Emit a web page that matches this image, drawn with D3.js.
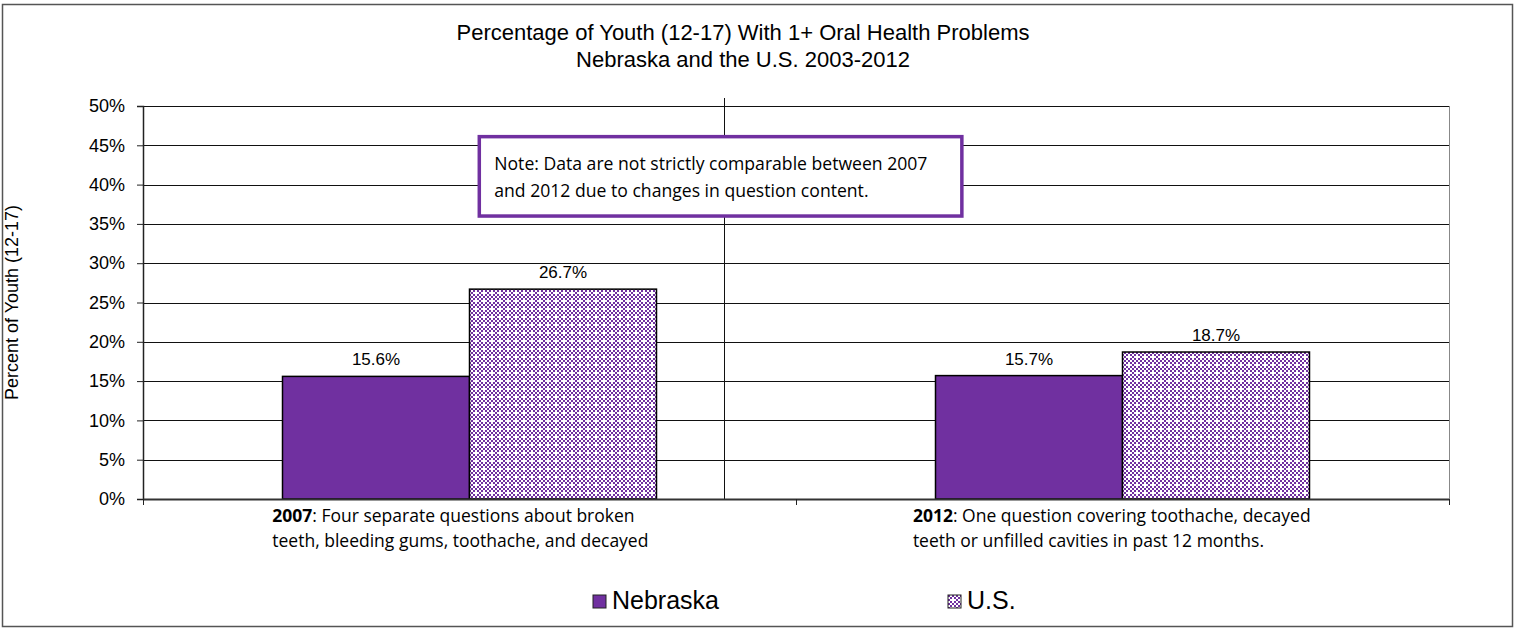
<!DOCTYPE html>
<html>
<head>
<meta charset="utf-8">
<script src="https://cdn.jsdelivr.net/npm/d3@7"></script>
<style>
  body { margin: 0; background: #fff; }
  svg { display: block; }
</style>
</head>
<body>
<div id="chart"></div>
<script>
const categories = ["2007", "2012"];
const seriesNames = ["Nebraska", "U.S."];
const nebraskaValues = [15.6, 15.7];
const usValues = [26.7, 18.7];
const yTicks = [0, 5, 10, 15, 20, 25, 30, 35, 40, 45, 50];
const categoryBold = ["2007", "2012"];
const categoryLine1 = [": Four separate questions about broken", ": One question covering toothache, decayed"];
const categoryLine2 = ["teeth, bleeding gums, toothache, and decayed", "teeth or unfilled cavities in past 12 months."];
const noteLines = ["Note: Data are not strictly comparable between 2007", "and 2012 due to changes in question content."];

const width = 1519, height = 629;
const plot = {left: 143, right: 1449, top: 106, bottom: 499};
const purple = "#7030A0";

const svg = d3.select("#chart").append("svg")
    .attr("width", width)
    .attr("height", height);

// checkered fill for the U.S. bars
const defs = svg.append("defs");
const pattern = defs.append("pattern")
    .attr("id", "checker")
    .attr("patternUnits", "userSpaceOnUse")
    .attr("width", 8)
    .attr("height", 8);
pattern.append("rect").attr("width", 8).attr("height", 8).attr("fill", "#fff");
for (let i = 0; i < 4; i++) {
    for (let j = 0; j < 4; j++) {
        if ((i + j) % 2 !== 0) continue;
        if (i === 2 && j === 2) continue; // leaves the little white plus
        pattern.append("rect")
            .attr("x", i * 2).attr("y", j * 2)
            .attr("width", 2).attr("height", 2)
            .attr("fill", purple);
    }
}

// outer frame
svg.append("rect")
    .attr("x", 2.5).attr("y", 4.5)
    .attr("width", 1510).attr("height", 622)
    .attr("fill", "none")
    .attr("stroke", "#555")
    .attr("stroke-width", 1.5);

// title
svg.append("text")
    .attr("x", 743).attr("y", 40)
    .attr("text-anchor", "middle")
    .style("font-family", "Liberation Sans, Arial, sans-serif")
    .style("font-size", "22px")
    .text("Percentage of Youth (12-17) With 1+ Oral Health Problems");
svg.append("text")
    .attr("x", 743).attr("y", 67)
    .attr("text-anchor", "middle")
    .style("font-family", "Liberation Sans, Arial, sans-serif")
    .style("font-size", "22px")
    .text("Nebraska and the U.S. 2003-2012");

const x = d3.scaleBand()
    .domain(categories)
    .range([plot.left, plot.right])
    .paddingInner(0)
    .paddingOuter(0);

const xSub = d3.scaleBand()
    .domain(seriesNames)
    .range([0, x.bandwidth()])
    .paddingInner(0)
    .paddingOuter(0.746);

// category units, for the divider line and note box
const xCat = d3.scaleLinear().domain([0, 2]).range([plot.left, plot.right]);

const y = d3.scaleLinear()
    .domain([0, 50])
    .range([plot.bottom, plot.top]);

// gridlines
svg.append("g")
    .selectAll("line")
    .data(yTicks.filter(d => d > 0))
    .join("line")
    .attr("x1", plot.left).attr("x2", plot.right)
    .attr("y1", d => Math.round(y(d)) + 0.5)
    .attr("y2", d => Math.round(y(d)) + 0.5)
    .attr("stroke", "#111")
    .attr("stroke-width", 1);

// right edge of plot area
svg.append("line")
    .attr("x1", plot.right + 0.5).attr("x2", plot.right + 0.5)
    .attr("y1", plot.top).attr("y2", plot.bottom + 5)
    .attr("stroke", "#888");

// divider between the two survey years
svg.append("line")
    .attr("x1", Math.round(xCat(0.89)) + 0.5).attr("x2", Math.round(xCat(0.89)) + 0.5)
    .attr("y1", plot.top - 8).attr("y2", plot.bottom)
    .attr("stroke", "#111");

// bars
const rows = categories.map((c, i) => ({
    category: c,
    values: [
        {series: "Nebraska", value: nebraskaValues[i]},
        {series: "U.S.", value: usValues[i]}
    ]
}));

const groups = svg.append("g")
    .selectAll("g")
    .data(rows)
    .join("g")
    .attr("transform", d => "translate(" + x(d.category) + ",0)");

groups.selectAll("rect")
    .data(d => d.values)
    .join("rect")
    .attr("x", d => xSub(d.series))
    .attr("y", d => y(d.value))
    .attr("width", xSub.bandwidth())
    .attr("height", d => y(0) - y(d.value))
    .attr("fill", d => d.series === "Nebraska" ? purple : "url(#checker)")
    .attr("stroke", "#000")
    .attr("stroke-width", 1.5);

groups.selectAll("text")
    .data(d => d.values)
    .join("text")
    .attr("x", d => xSub(d.series) + xSub.bandwidth() / 2)
    .attr("y", d => y(d.value) - 11)
    .attr("text-anchor", "middle")
    .style("font-family", "Liberation Sans, Arial, sans-serif")
    .style("font-size", "17px")
    .text(d => d.value.toFixed(1) + "%");

// y axis
const yAxis = svg.append("g")
    .attr("transform", "translate(" + plot.left + ",0)")
    .call(d3.axisLeft(y).tickValues(yTicks).tickFormat(d => d + "%").tickSize(6).tickPadding(12));
yAxis.select(".domain").attr("stroke", "#222").attr("stroke-width", 1.5);
yAxis.selectAll(".tick line").attr("stroke", "#222");
yAxis.selectAll(".tick text")
    .style("font-family", "Liberation Sans, Arial, sans-serif")
    .style("font-size", "18px")
    .attr("fill", "#000");

// x axis line with ticks at band edges
svg.append("line")
    .attr("x1", plot.left).attr("x2", plot.right)
    .attr("y1", plot.bottom + 0.5).attr("y2", plot.bottom + 0.5)
    .attr("stroke", "#333")
    .attr("stroke-width", 2);
svg.append("g")
    .selectAll("line")
    .data([0, 1, 2])
    .join("line")
    .attr("x1", d => Math.round(xCat(d)) + 0.5)
    .attr("x2", d => Math.round(xCat(d)) + 0.5)
    .attr("y1", plot.bottom).attr("y2", plot.bottom + 6)
    .attr("stroke", "#222");

// y axis title
svg.append("text")
    .attr("transform", "translate(18," + ((plot.top + plot.bottom) / 2) + ") rotate(-90)")
    .attr("text-anchor", "middle")
    .style("font-family", "Liberation Sans, Arial, sans-serif")
    .style("font-size", "18px")
    .text("Percent of Youth (12-17)");

// category descriptions
const catOffset = [0.198, 0.179];
categories.forEach(function (c, i) {
    const left = x(c) + x.bandwidth() * catOffset[i];
    const t = svg.append("text")
        .attr("x", left).attr("y", 522)
        .style("font-family", "Open Sans, sans-serif")
        .style("font-size", "17.5px")
        .attr("fill", "#000");
    t.append("tspan").style("font-weight", "bold").text(categoryBold[i]);
    t.append("tspan").text(categoryLine1[i]);
    svg.append("text")
        .attr("x", left).attr("y", 547)
        .style("font-family", "Open Sans, sans-serif")
        .style("font-size", "17.5px")
        .text(categoryLine2[i]);
});

// note box
const noteX0 = xCat(0.515), noteX1 = xCat(1.254);
const noteY0 = y(46.1), noteY1 = y(36.0);
svg.append("rect")
    .attr("x", noteX0).attr("y", noteY0)
    .attr("width", noteX1 - noteX0).attr("height", noteY1 - noteY0)
    .attr("fill", "#fff")
    .attr("stroke", purple)
    .attr("stroke-width", 3.5);
noteLines.forEach(function (line, i) {
    svg.append("text")
        .attr("x", noteX0 + 15)
        .attr("y", noteY0 + 33 + i * 27)
        .style("font-family", "Open Sans, sans-serif")
        .style("font-size", "17.6px")
        .text(line);
});

// legend
const legend = svg.append("g")
    .selectAll("g")
    .data(seriesNames)
    .join("g")
    .attr("transform", (d, i) => "translate(" + (593 + i * 355) + ",595)");
legend.append("rect")
    .attr("width", 13).attr("height", 13)
    .attr("fill", d => d === "Nebraska" ? purple : "url(#checker)")
    .attr("stroke", "#222");
legend.append("text")
    .attr("x", 19).attr("y", 14)
    .style("font-family", "Liberation Sans, Arial, sans-serif")
    .style("font-size", "25px")
    .text(d => d);
</script>
</body>
</html>
